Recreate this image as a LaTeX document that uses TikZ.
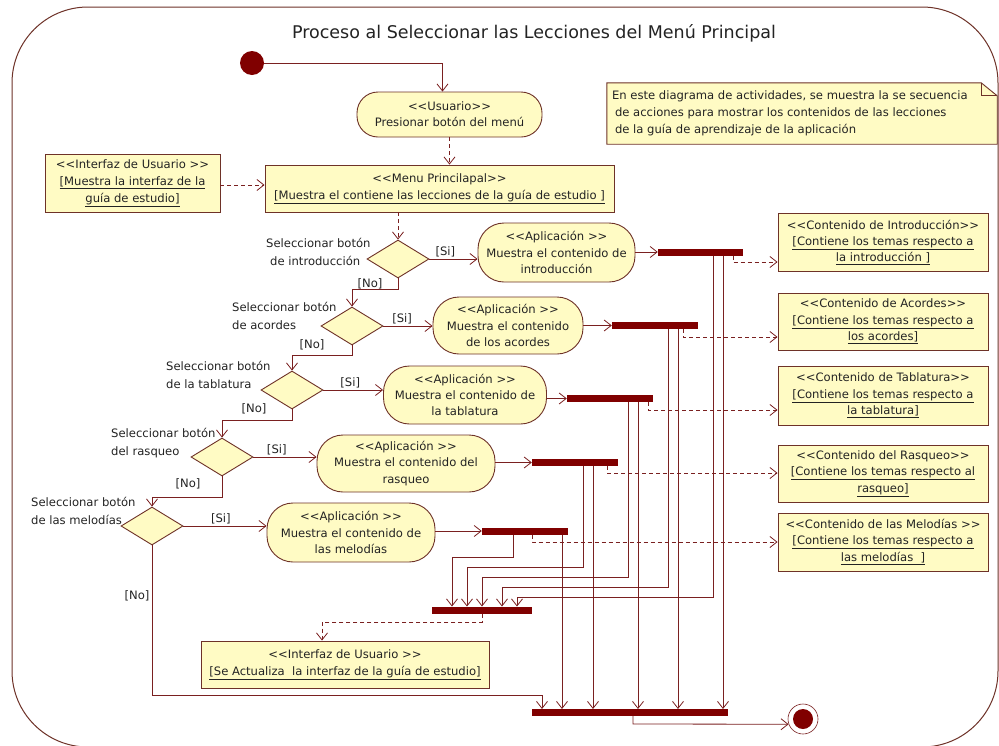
\documentclass[tikz,border=0pt]{standalone}
\usepackage{fontspec}
\setmainfont{DejaVu Sans}
\usetikzlibrary{arrows.meta,shapes.geometric}
\definecolor{fillY}{RGB}{255,251,196}
\definecolor{lineC}{RGB}{122,32,32}
\definecolor{edgeC}{RGB}{110,50,40}
\definecolor{barC}{RGB}{128,0,0}
\definecolor{txtC}{RGB}{35,35,35}
\begin{document}
\begin{tikzpicture}[x=1pt,y=-1pt,
  every node/.style={font=\fontsize{11.6}{16.3}\selectfont, text=txtC},
  box/.style={draw=edgeC, fill=fillY, line width=0.9pt, inner sep=0pt, align=center},
  actbox/.style={box, rounded corners=26pt},
  barnode/.style={fill=barC, draw=none, minimum height=7pt, inner sep=0pt},
  decis/.style={diamond, draw=edgeC, fill=fillY, line width=0.9pt, minimum width=62pt, minimum height=38pt, inner sep=0pt},
  flow/.style={draw=lineC, line width=0.8pt, -{Straight Barb[length=7pt,width=11pt]}},
  dflow/.style={flow, dash pattern=on 4pt off 3pt},
  lbl/.style={inner sep=0pt, align=left},
  dlbl/.style={inner sep=0pt, align=left, font=\fontsize{11.6}{18}\selectfont}
]
\useasboundingbox (0,0) rectangle (999,745);
\fill[white] (0,0) rectangle (999,745);
\draw[edgeC, line width=1pt, rounded corners=76pt] (12,7) rectangle (998,747);

\node[font=\fontsize{17.5}{20}\selectfont] (title) at (534,33) {Proceso al Seleccionar las Lecciones del Menú Principal};

% note
\node[minimum width=390pt, minimum height=61pt, inner sep=0pt] (note) at (802,113.5) {};
\filldraw[draw=edgeC, fill=fillY, line width=0.9pt] (note.north west) -- ([xshift=-16pt]note.north east) -- ([yshift=-13pt]note.north east) -- (note.south east) -- (note.south west) -- cycle;
\draw[edgeC, line width=0.9pt] ([xshift=-16pt]note.north east) -- ([xshift=-16pt,yshift=-13pt]note.north east) -- ([yshift=-13pt]note.north east);
\node[lbl, anchor=west, font=\fontsize{11.6}{16.8}\selectfont] (notetxt) at ([xshift=5pt]note.west) {En este diagrama de actividades, se muestra la se secuencia\\\hspace{3pt}de acciones para mostrar los contenidos de las lecciones\\\hspace{3pt}de la guía de aprendizaje de la aplicación};

% initial / final
\node[circle, fill=barC, minimum size=24pt, inner sep=0pt] (init) at (252,63) {};
\node[circle, draw=lineC, fill=white, line width=0.6pt, minimum size=30pt, inner sep=0pt] (fin) at (803,719) {};
\node[circle, fill=barC, minimum size=20pt, inner sep=0pt] (fini) at (fin) {};

% top nodes
\node[actbox, rounded corners=21pt, minimum width=185pt, minimum height=45pt] (usr) at (449.5,114.5) {<{}<Usuario>{}>\\Presionar botón del menú};
\node[box, minimum width=175pt, minimum height=58pt, font=\fontsize{11.6}{17}\selectfont] (if1) at (132.5,183) {<{}<Interfaz de Usuario >{}>\\\underline{[Muestra la interfaz de la}\\\underline{guía de estudio]}};
\node[box, minimum width=349pt, minimum height=47pt, font=\fontsize{11.6}{17}\selectfont] (menu) at (439.5,188.5) {<{}<Menu Princilapal>{}>\\\underline{[Muestra el contiene las lecciones de la guía de estudio ]}};

% decisions
\node[decis] (d1) at (398,259) {};
\node[decis] (d2) at (352,326) {};
\node[decis] (d3) at (292,390) {};
\node[decis] (d4) at (222,457) {};
\node[decis] (d5) at (152,526) {};

\node[dlbl, anchor=west] (l1) at (266,252) {Seleccionar botón\\\hspace{4pt}de introducción};
\node[dlbl, anchor=west] (l2) at (232,316) {Seleccionar botón\\de acordes};
\node[dlbl, anchor=west] (l3) at (166,375) {Seleccionar botón\\de la tablatura};
\node[dlbl, anchor=west] (l4) at (111,443) {Seleccionar botón\\del rasqueo};
\node[dlbl, anchor=west] (l5) at (31,511) {Seleccionar botón\\de las melodías};

% activities
\node[actbox, minimum width=157pt, minimum height=59pt] (a1) at (556.5,252.5) {<{}<Aplicación >{}>\\Muestra el contenido de\\introducción};
\node[actbox, minimum width=150pt, minimum height=57pt] (a2) at (508,325.5) {<{}<Aplicación >{}>\\Muestra el contenido\\de los acordes};
\node[actbox, minimum width=163pt, minimum height=58pt] (a3) at (465,395) {<{}<Aplicación >{}>\\Muestra el contenido de\\la tablatura};
\node[actbox, minimum width=178pt, minimum height=57pt] (a4) at (406,463.5) {<{}<Aplicación >{}>\\Muestra el contenido del\\rasqueo};
\node[actbox, minimum width=168pt, minimum height=59pt] (a5) at (351,532.5) {<{}<Aplicación >{}>\\Muestra el contenido de\\las melodías};

% content boxes
\node[box, minimum width=210pt, minimum height=58pt] (c1) at (883,242.5) {<{}<Contenido de Introducción>{}>\\\underline{[Contiene los temas respecto a}\\\underline{la introducción ]}};
\node[box, minimum width=210pt, minimum height=57pt] (c2) at (883,321.5) {<{}<Contenido de Acordes>{}>\\\underline{[Contiene los temas respecto a}\\\underline{los acordes]}};
\node[box, minimum width=210pt, minimum height=59pt] (c3) at (883,395.5) {<{}<Contenido de Tablatura>{}>\\\underline{[Contiene los temas respecto a}\\\underline{la tablatura]}};
\node[box, minimum width=210pt, minimum height=57pt] (c4) at (883,473.5) {<{}<Contenido del Rasqueo>{}>\\\underline{[Contiene los temas respecto al}\\\underline{rasqueo]}};
\node[box, minimum width=210pt, minimum height=58pt] (c5) at (883,542) {<{}<Contenido de las Melodías >{}>\\\underline{[Contiene los temas respecto a}\\\underline{las melodías\ \ ]}};

\node[box, minimum width=288pt, minimum height=47pt, font=\fontsize{11.6}{17}\selectfont] (if2) at (345,664.5) {<{}<Interfaz de Usuario >{}>\\\underline{[Se Actualiza\ \ la interfaz de la guía de estudio]}};

% bars
\node[barnode, minimum width=85pt] (b1) at (700.5,252) {};
\node[barnode, minimum width=86pt] (b2) at (655,325.5) {};
\node[barnode, minimum width=86pt] (b3) at (610,398.5) {};
\node[barnode, minimum width=86pt] (b4) at (575,462.5) {};
\node[barnode, minimum width=86pt] (b5) at (525,531) {};
\node[barnode, minimum width=100pt] (bj) at (482,610) {};
\node[barnode, minimum width=196pt] (bf) at (630,712.5) {};

% routing coordinates
\coordinate (r1) at (713,597); \coordinate (j1) at (517,606.5);
\coordinate (r2) at (668,587); \coordinate (j2) at (502,606.5);
\coordinate (r3) at (628,577); \coordinate (j3) at (482,606.5);
\coordinate (r4) at (583,567); \coordinate (j4) at (467,606.5);
\coordinate (r5) at (513,557); \coordinate (j5) at (452,606.5);
\coordinate (f0) at (542,709);
\coordinate (f1) at (723,709);
\coordinate (f2) at (678,709);
\coordinate (f3) at (638,709);
\coordinate (f4) at (593,709);
\coordinate (f5) at (562,709);
\coordinate (k1) at (733,262);
\coordinate (k2) at (683,337);
\coordinate (k3) at (648,410);
\coordinate (k4) at (607,473);
\coordinate (k5) at (532,542);
\coordinate (kj) at (482,622);
\coordinate (kf) at (633,724);
\coordinate (no5) at (152,695);

% top edges
\draw[flow] (init.east) -| ([xshift=-7pt]usr.north);
\draw[dflow] (usr.south) -- (usr.south |- menu.north);
\draw[dflow] (if1.east |- 0,185) -- (menu.west |- 0,185);
\draw[dflow] (menu.south -| d1.north) -- (d1.north);

% decision edges
\draw[flow] (d1.east) -- (d1.east -| a1.west) node[pos=0.33, above=2pt, inner sep=0pt] {[Si]};
\draw[flow] (d2.east) -- (d2.east -| a2.west) node[pos=0.38, above=2pt, inner sep=0pt] {[Si]};
\draw[flow] (d3.east) -- (d3.east -| a3.west) node[pos=0.45, above=2pt, inner sep=0pt] {[Si]};
\draw[flow] (d4.east) -- (d4.east -| a4.west) node[pos=0.37, above=2pt, inner sep=0pt] {[Si]};
\draw[flow] (d5.east) -- (d5.east -| a5.west) node[pos=0.45, above=2pt, inner sep=0pt] {[Si]};

\draw[flow] (d1.south) -- ++(0,11) -| (d2.north);
\draw[flow] (d2.south) -- ++(0,10) -| (d3.north);
\draw[flow] (d3.south) -- ++(0,11) -| (d4.north);
\draw[flow] (d4.south) -- ++(0,21) -| (d5.north);
\draw[flow] (d5.south) -- (no5) -| (f0);
\node[inner sep=0pt] (n1) at (370,284) {[No]};
\node[inner sep=0pt] (n2) at (312,345) {[No]};
\node[inner sep=0pt] (n3) at (254,409) {[No]};
\node[inner sep=0pt] (n4) at (188,484) {[No]};
\node[inner sep=0pt] (n5) at (137,596) {[No]};

% activities to bars
\draw[flow] (a1.east |- b1.west) -- (b1.west);
\draw[flow] (a2.east |- b2.west) -- (b2.west);
\draw[flow] (a3.east |- b3.west) -- (b3.west);
\draw[flow] (a4.east |- b4.west) -- (b4.west);
\draw[flow] (a5.east |- b5.west) -- (b5.west);

% bars to join bar
\draw[flow] (b1.south -| r1) -- (r1) -| (j1);
\draw[flow] (b2.south -| r2) -- (r2) -| (j2);
\draw[flow] (b3.south -| r3) -- (r3) -| (j3);
\draw[flow] (b4.south -| r4) -- (r4) -| (j4);
\draw[flow] (b5.south -| r5) -- (r5) -| (j5);

% bars to final bar
\draw[flow] (b1.south -| f1) -- (f1);
\draw[flow] (b2.south -| f2) -- (f2);
\draw[flow] (b3.south -| f3) -- (f3);
\draw[flow] (b4.south -| f4) -- (f4);
\draw[flow] (b5.south -| f5) -- (f5);

% dashed to contents
\draw[dflow] (b1.south -| k1) |- (c1.west |- k1);
\draw[dflow] (b2.south -| k2) |- (c2.west |- k2);
\draw[dflow] (b3.south -| k3) |- (c3.west |- k3);
\draw[dflow] (b4.south -| k4) |- (c4.west |- k4);
\draw[dflow] (b5.south -| k5) |- (c5.west |- k5);

% join to interface
\draw[dflow] (bj.south -| kj) -- (kj) -| ([xshift=-23pt]if2.north);

% final
\draw[flow] (bf.south -| kf) -- (kf) -- (fin.200);
\end{tikzpicture}
\end{document}
